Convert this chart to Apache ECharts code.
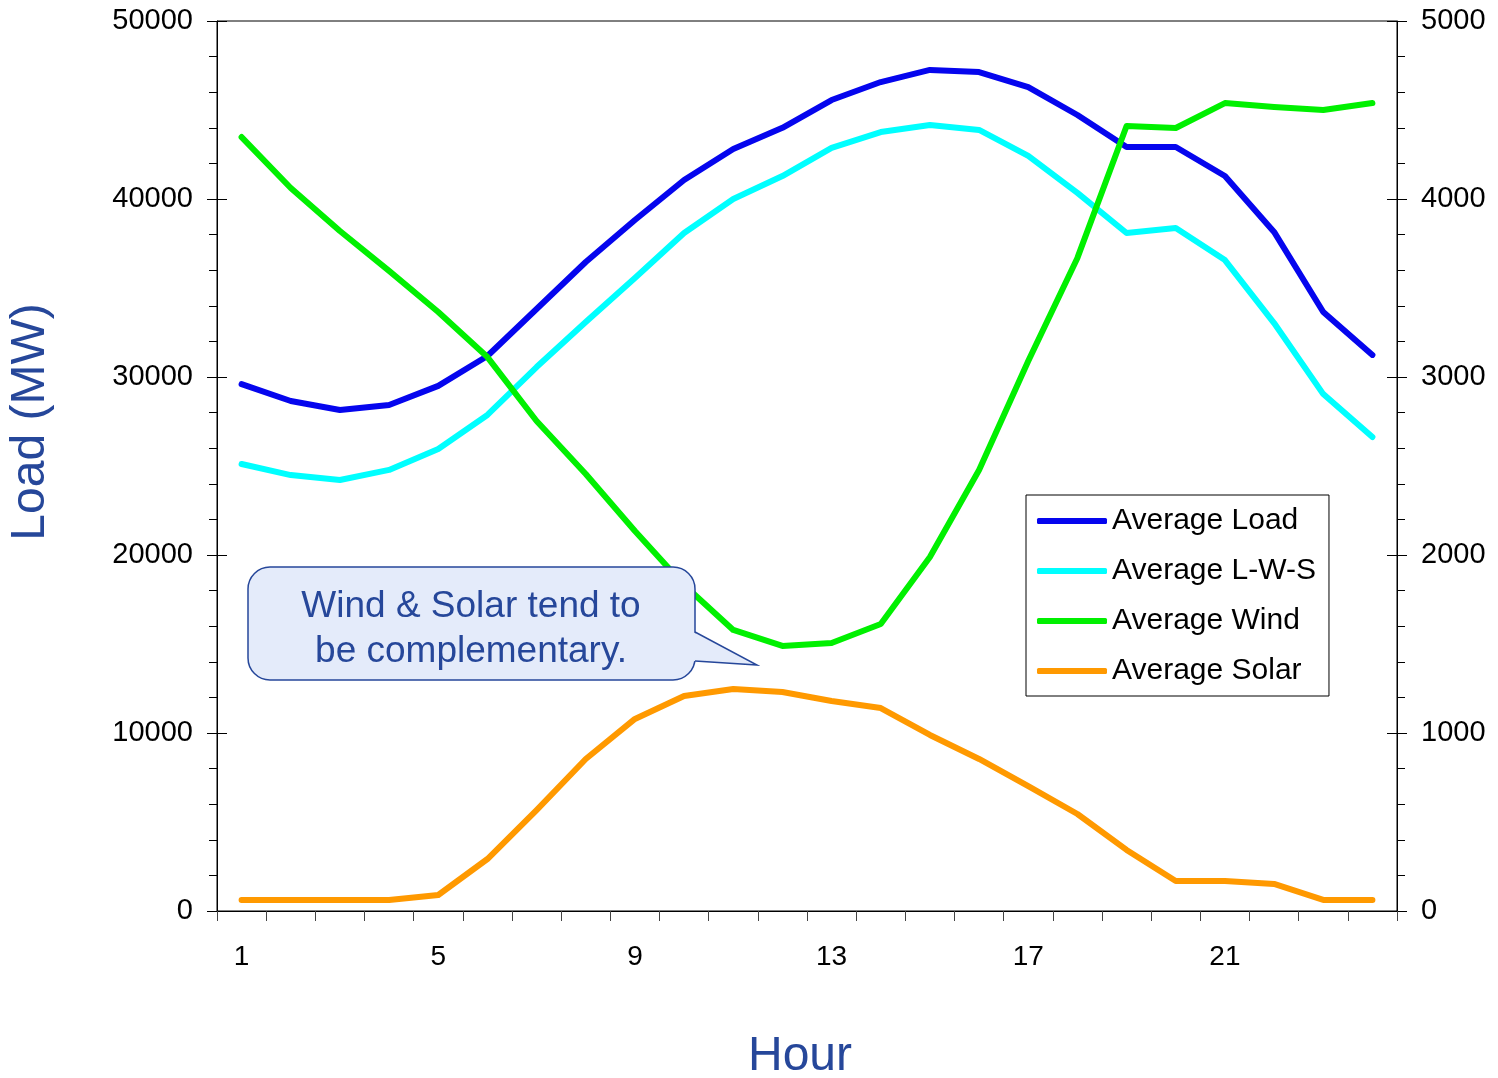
<!DOCTYPE html>
<html>
<head>
<meta charset="utf-8">
<script src="https://cdn.jsdelivr.net/npm/echarts@6/dist/echarts.min.js"></script>
<style>
html,body{margin:0;padding:0;background:#fff;}
#chart{width:1498px;height:1078px;}
</style>
</head>
<body>
<div id="chart"></div>
<script>
const hours = ['1','2','3','4','5','6','7','8','9','10','11','12','13','14','15','16','17','18','19','20','21','22','23','24'];
const avgLoad = [29600,28650,28150,28430,29500,31180,33820,36460,38820,41070,42810,44000,45560,46570,47250,47130,46290,44720,42920,42920,41290,38150,33650,31240];
const avgLWS = [25110,24490,24210,24780,25960,27870,30560,33090,35560,38090,40000,41290,42870,43760,44160,43880,42420,40340,38090,38370,36570,33030,29040,26630];
const avgWind = [4348,4062,3820,3596,3365,3112,2753,2455,2135,1831,1579,1489,1506,1612,1989,2478,3090,3669,4410,4399,4539,4517,4500,4539];
const avgSolar = [62,62,62,62,90,292,567,854,1079,1208,1247,1230,1180,1140,989,854,702,545,343,169,169,152,62,62];
const seriesNames = ['Average Load','Average L-W-S','Average Wind','Average Solar'];

const FONT = "'Liberation Sans', Arial, sans-serif";
const TITLE_COLOR = '#26479a';
const CALLOUT_FILL = '#e4ebfa';

function yAx(pos, max, interval, inside) {
  return {
    type: 'value', position: pos, min: 0, max: max, interval: interval,
    axisLine: {show: !inside, lineStyle: {color: '#000', width: 1}},
    axisTick: {show: true, inside: inside, length: 10, lineStyle: {color: '#000'}},
    minorTick: {show: !inside, splitNumber: 5, length: 8, lineStyle: {color: '#000'}},
    axisLabel: {show: !inside, color: '#000', fontSize: 29, fontFamily: FONT, margin: 24,
                formatter: function (v) { return String(v); }},
    splitLine: {show: false}
  };
}

const chart = echarts.init(document.getElementById('chart'));
chart.setOption({
  backgroundColor: '#fff',
  animation: false,
  grid: {left: 217, right: 101, top: 21, bottom: 167, show: true, borderColor: '#000', borderWidth: 1, backgroundColor: 'transparent'},
  xAxis: {
    type: 'category', data: hours, boundaryGap: true,
    axisLine: {lineStyle: {color: '#000', width: 1}},
    axisTick: {show: true, interval: 0, length: 10, lineStyle: {color: '#444'}},
    axisLabel: {interval: 3, color: '#000', fontSize: 28, fontFamily: FONT, margin: 32},
    splitLine: {show: false}
  },
  yAxis: [
    yAx('left', 50000, 10000, false),
    yAx('right', 5000, 1000, false),
    yAx('left', 50000, 10000, true),
    yAx('right', 5000, 1000, true)
  ],
  legend: {
    orient: 'vertical', left: 1026, top: 495,
    data: seriesNames,
    icon: 'roundRect', itemWidth: 70, itemHeight: 6, itemGap: 20,
    borderColor: '#000', borderWidth: 1, borderRadius: 0,
    padding: [11, 13, 10, 11],
    textStyle: {fontSize: 30, fontFamily: FONT, color: '#000', lineHeight: 30}
  },
  series: [
    {name: seriesNames[0], type: 'line', yAxisIndex: 0, data: avgLoad, showSymbol: false, symbol: 'none', lineStyle: {color: '#0505ee', width: 6, cap: 'round', join: 'round'}, itemStyle: {color: '#0505ee'}},
    {name: seriesNames[1], type: 'line', yAxisIndex: 0, data: avgLWS, showSymbol: false, symbol: 'none', lineStyle: {color: '#00ffff', width: 6, cap: 'round', join: 'round'}, itemStyle: {color: '#00ffff'}},
    {name: seriesNames[2], type: 'line', yAxisIndex: 1, data: avgWind, showSymbol: false, symbol: 'none', lineStyle: {color: '#00f000', width: 6, cap: 'round', join: 'round'}, itemStyle: {color: '#00f000'}},
    {name: seriesNames[3], type: 'line', yAxisIndex: 1, data: avgSolar, showSymbol: false, symbol: 'none', lineStyle: {color: '#ff9900', width: 6, cap: 'round', join: 'round'}, itemStyle: {color: '#ff9900'}}
  ],
  graphic: [
    {type: 'text', x: 31, y: 422, rotation: Math.PI / 2, z: 100,
     style: {text: 'Load (MW)', fill: TITLE_COLOR, font: '48px ' + FONT, textAlign: 'center', textVerticalAlign: 'middle'}},
    {type: 'text', x: 800, y: 1057, z: 100,
     style: {text: 'Hour', fill: TITLE_COLOR, font: '48px ' + FONT, textAlign: 'center', textVerticalAlign: 'middle'}},
    {type: 'rect', z: 100,
     shape: {x: 248, y: 567, width: 447, height: 113, r: 22},
     style: {fill: CALLOUT_FILL, stroke: TITLE_COLOR, lineWidth: 1.5}},
    {type: 'polygon', z: 101,
     shape: {points: [[693, 632], [757, 665], [693, 661]]},
     style: {fill: CALLOUT_FILL, stroke: null}},
    {type: 'polyline', z: 102,
     shape: {points: [[695, 632], [757, 665], [695, 661]]},
     style: {fill: null, stroke: TITLE_COLOR, lineWidth: 1.5}},
    {type: 'text', x: 471, y: 629, z: 103,
     style: {text: 'Wind & Solar tend to\nbe complementary.', fill: TITLE_COLOR, font: '37px ' + FONT, lineHeight: 45, textAlign: 'center', textVerticalAlign: 'middle'}}
  ]
});
</script>
</body>
</html>
